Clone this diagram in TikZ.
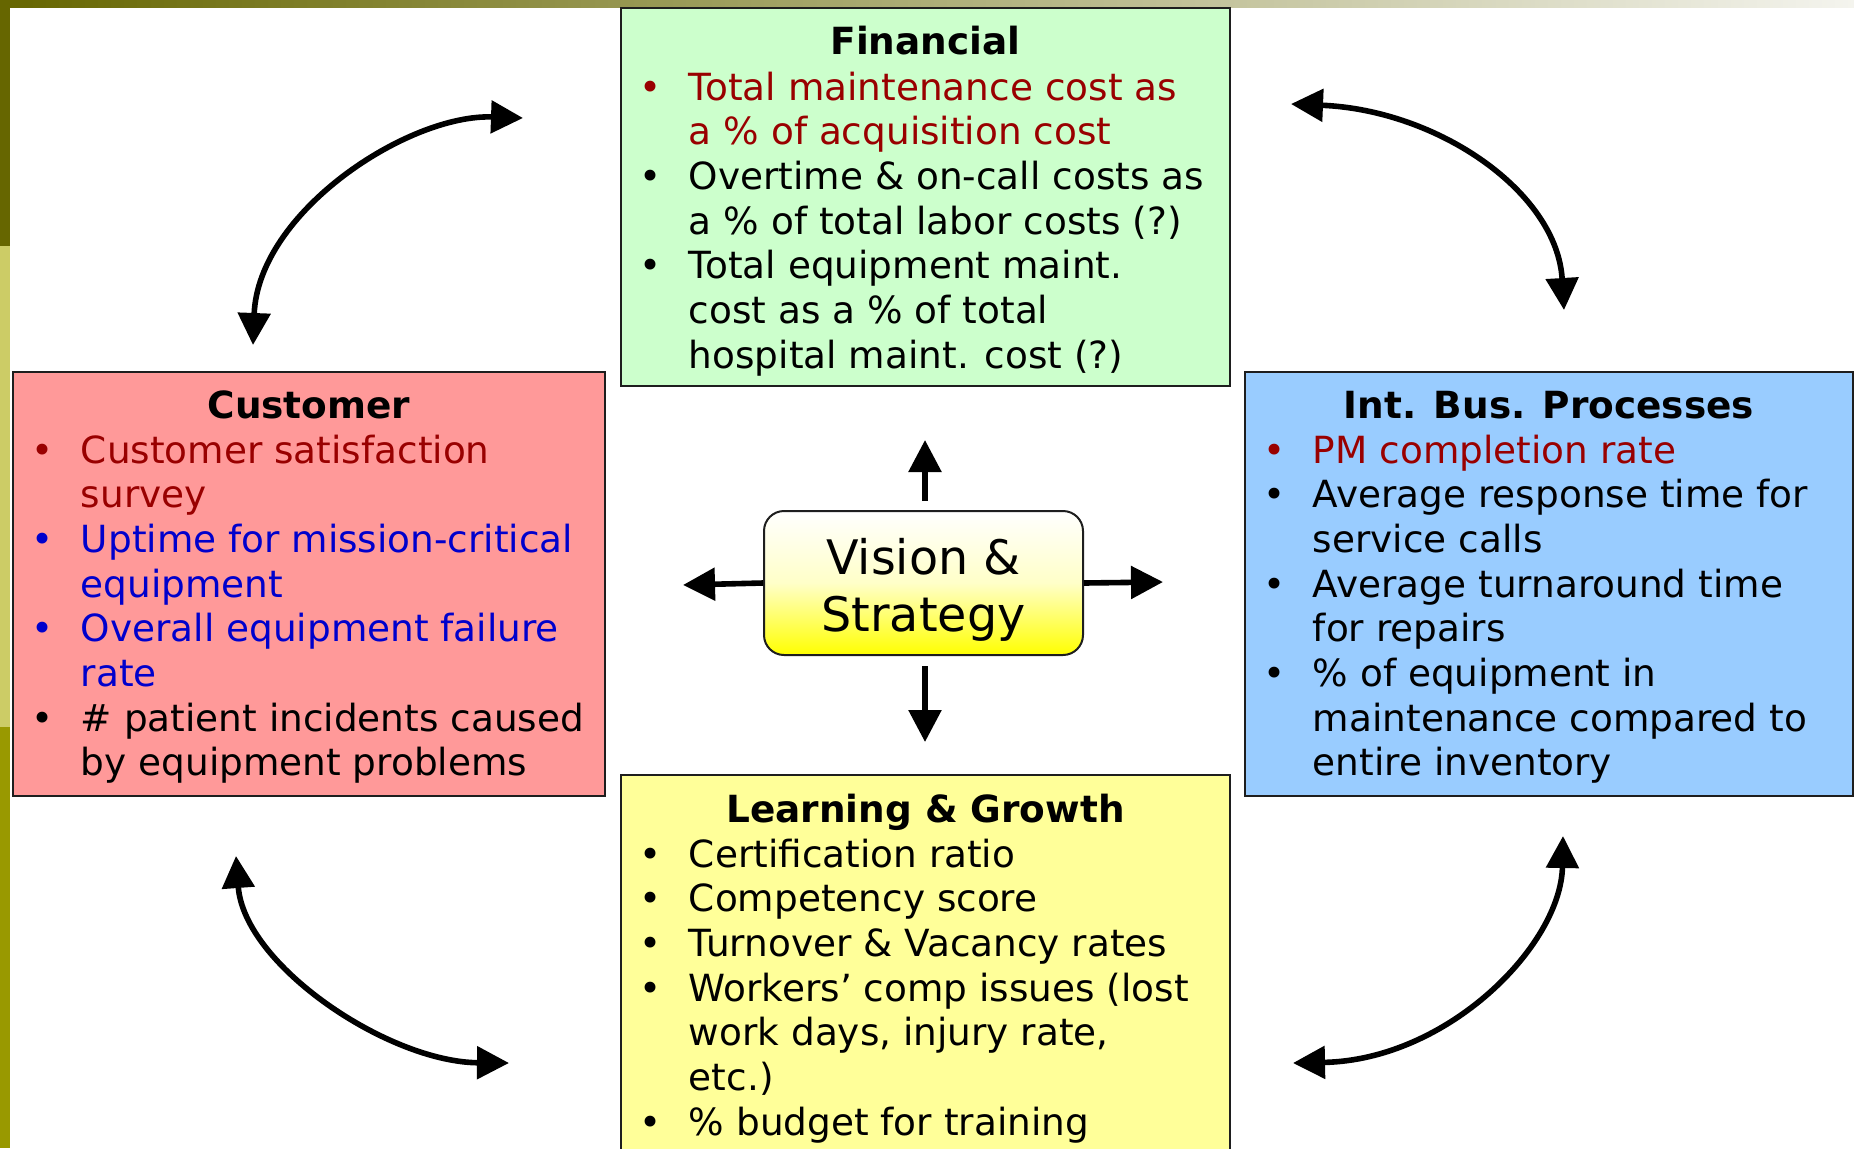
\documentclass[tikz,border=0pt]{standalone}
\usepackage{fontspec}
\setmainfont{DejaVu Sans}
\usetikzlibrary{arrows.meta}

\definecolor{finfill}{HTML}{CCFFCC}
\definecolor{cusfill}{HTML}{FF9999}
\definecolor{ibpfill}{HTML}{99CCFF}
\definecolor{lgfill}{HTML}{FFFF99}
\definecolor{kpired}{HTML}{990000}
\definecolor{kpiblue}{HTML}{0000CC}
\definecolor{olivedark}{HTML}{666600}
\definecolor{olivelight}{HTML}{CCCC66}
\definecolor{olivemid}{HTML}{999900}
\definecolor{barend}{HTML}{F4F4EE}
\definecolor{edge}{HTML}{1E1E1E}
\definecolor{paleyellow}{HTML}{FFFFC8}

\newcommand\bodyfont{\fontsize{18.7pt}{22.35pt}\selectfont}
\newcommand\visionfont{\fontsize{23.8pt}{28.5pt}\selectfont}
% one bulleted measure: bullet cell + (possibly multi-line) text cell
\newcommand\kpi[2][black]{\textcolor{#1}{\textbullet} & \color{#1}\begin{tabular}[t]{@{}l@{}}#2\end{tabular}\\}

\tikzset{
  box/.style={draw=edge, line width=1pt, anchor=north west, inner sep=0pt},
  boxtitle/.style={anchor=base, inner sep=0pt, font=\bodyfont\bfseries},
  boxlist/.style={anchor=base west, inner sep=0pt, font=\bodyfont},
  vision/.style={draw=edge, line width=1pt, rounded corners=10pt,
    top color=white, bottom color=yellow, middle color=paleyellow,
    minimum width=159.5pt, minimum height=72pt, align=center,
    font=\visionfont, inner sep=0pt},
  tip/.style={Triangle[length=16pt,width=16pt]},
  arr/.style={line width=2.8pt, -{Triangle[length=16pt,width=16pt]}},
  arrboth/.style={line width=2.8pt, {Triangle[length=16pt,width=16pt]}-{Triangle[length=16pt,width=16pt]}}
}

\begin{document}
\begin{tikzpicture}[x=0.5pt,y=-0.5pt]
\useasboundingbox (0,0) rectangle (1854,1148);
\clip (0,0) rectangle (1854,1148);

% slide decoration: top gradient bar and left colour strip
\shade[left color=olivedark, right color=barend] (0,0) rectangle (1854,7);
\fill[olivedark] (0,0) rectangle (10,246);
\fill[olivelight] (0,246) rectangle (10,727);
\fill[olivemid] (0,727) rectangle (10,1148);

% the four perspective boxes
\node[box, fill=finfill, minimum width=304.5pt, minimum height=189pt] (fin) at (620,7) {};
\node[box, fill=cusfill, minimum width=296pt, minimum height=212pt] (cus) at (12,371) {};
\node[box, fill=ibpfill, minimum width=304pt, minimum height=212pt] (ibp) at (1244,371) {};
\node[box, fill=lgfill, minimum width=304.5pt, minimum height=200pt] (lg) at (620,774) {};

% Financial
\node[boxtitle] (fint) at (fin.north |- 0,54) {Financial};
\node[boxlist] (finl) at (639.5,100) {\begin{tabular}[t]{@{}p{24.5pt}@{}l@{}}
\kpi[kpired]{Total maintenance cost as\\a \% of acquisition cost}
\kpi{Overtime \& on-call costs as\\a \% of total labor costs (?)}
\kpi{Total equipment maint.\\cost as a \% of total\\hospital maint. cost (?)}
\end{tabular}};

% Customer
\node[boxtitle] (cust) at (cus.north |- 0,418) {Customer};
\node[boxlist] (cusl) at (31.5,463) {\begin{tabular}[t]{@{}p{24.5pt}@{}l@{}}
\kpi[kpired]{Customer satisfaction\\survey}
\kpi[kpiblue]{Uptime for mission-critical\\equipment}
\kpi[kpiblue]{Overall equipment failure\\rate}
\kpi{\# patient incidents caused\\by equipment problems}
\end{tabular}};

% Internal business processes
\node[boxtitle] (ibpt) at (ibp.north |- 0,418) {Int. Bus. Processes};
\node[boxlist] (ibpl) at (1263.5,463) {\begin{tabular}[t]{@{}p{24.5pt}@{}l@{}}
\kpi[kpired]{PM completion rate}
\kpi{Average response time for\\service calls}
\kpi{Average turnaround time\\for repairs}
\kpi{\% of equipment in\\maintenance compared to\\entire inventory}
\end{tabular}};

% Learning & Growth
\node[boxtitle] (lgt) at (lg.north |- 0,822) {Learning \& Growth};
\node[boxlist] (lgl) at (639.5,867) {\begin{tabular}[t]{@{}p{24.5pt}@{}l@{}}
\kpi{Certification ratio}
\kpi{Competency score}
\kpi{Turnover \& Vacancy rates}
\kpi{Workers’ comp issues (lost\\work days, injury rate,\\etc.)}
\kpi{\% budget for training}
\end{tabular}};

% centre
\node[vision] (vis) at (923.5,583) {};
\node[font=\visionfont, align=center, inner sep=0pt] (vist) at (923.5,590) {Vision \&\\Strategy};

% straight arrows out of the centre
\coordinate (upend) at (925,440);
\coordinate (downend) at (925,742);
\coordinate (leftend) at (683,585);
\coordinate (rightend) at (1163,582);
\draw[arr] ([yshift=4.5pt]vis.north -| upend) -- (upend);
\draw[arr] ([yshift=-5pt]vis.south -| downend) -- (downend);
\draw[arr] (vis.west) -- (leftend);
\draw[arr] (vis.east) -- (rightend);

% curved two-way arrows between neighbouring perspectives
\coordinate (tlA) at (253,345);  \coordinate (tlB) at (523,118);
\coordinate (trA) at (1291,104); \coordinate (trB) at (1564,310);
\coordinate (blA) at (236,856);  \coordinate (blB) at (509,1063);
\coordinate (brA) at (1293,1063); \coordinate (brB) at (1563,836);
\draw[arrboth] (tlA) .. controls (258,212) and (408,114) .. (tlB);
\draw[arrboth] (trA) .. controls (1438,110) and (1557,192) .. (trB);
\draw[arrboth] (blA) .. controls (244,965) and (388,1062) .. (blB);
\draw[arrboth] (brA) .. controls (1448,1060) and (1561,945) .. (brB);
\end{tikzpicture}
\end{document}
